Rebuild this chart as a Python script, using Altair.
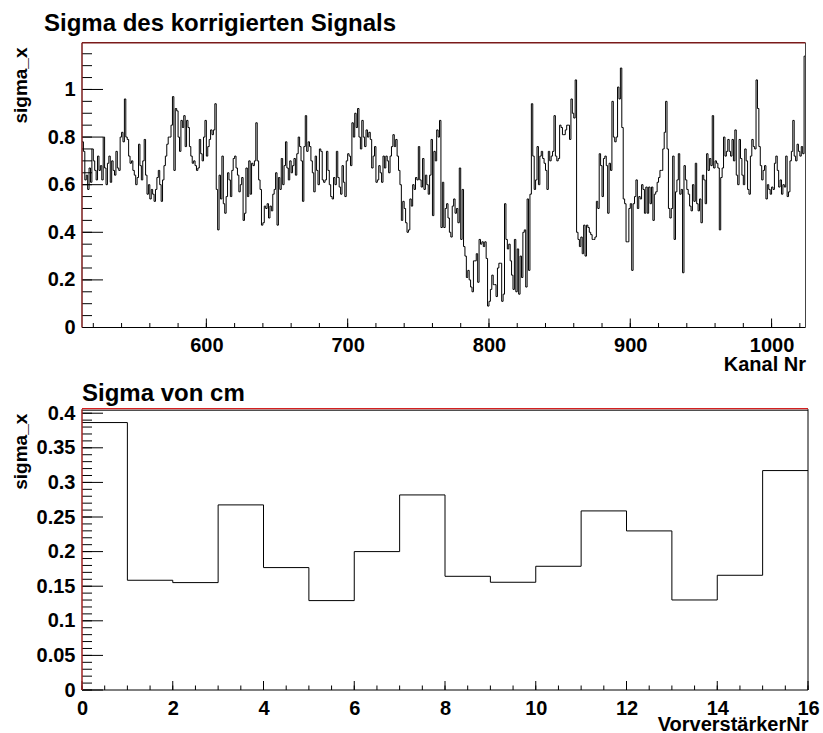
import altair as alt
import pandas as pd

# ---------------- data: Sigma des korrigierten Signals (Kanal 512..1023) ----------------
sigma_512_597 = [
    0.78, 0.74, 0.62, 0.64, 0.58, 0.67, 0.61, 0.75, 0.70, 0.66,
    0.62, 0.72, 0.66, 0.68, 0.62, 0.80, 0.67, 0.60, 0.69, 0.72,
    0.61, 0.70, 0.66, 0.64, 0.74, 0.67, 0.66, 0.80, 0.82, 0.78,
    0.96, 0.80, 0.79, 0.72, 0.69, 0.70, 0.66, 0.64, 0.60, 0.63,
    0.77, 0.68, 0.62, 0.70, 0.79, 0.64, 0.56, 0.60, 0.54, 0.58,
    0.56, 0.53, 0.58, 0.63, 0.66, 0.60, 0.53, 0.62, 0.68, 0.72,
    0.77, 0.80, 0.80, 0.85, 0.97, 0.66, 0.92, 0.91, 0.80, 0.74,
    0.87, 0.84, 0.89, 0.76, 0.87, 0.84, 0.76, 0.72, 0.69, 0.70,
    0.68, 0.66, 0.67, 0.79, 0.73, 0.70,
]
sigma_598_682 = [
    0.80, 0.87, 0.72, 0.76, 0.79, 0.83, 0.81, 0.83, 0.94, 0.58,
    0.41, 0.64, 0.54, 0.72, 0.52, 0.48, 0.55, 0.65, 0.62, 0.55,
    0.66, 0.71, 0.72, 0.67, 0.64, 0.57, 0.60, 0.63, 0.45, 0.48,
    0.67, 0.55, 0.70, 0.56, 0.69, 0.68, 0.70, 0.86, 0.70, 0.62,
    0.58, 0.43, 0.44, 0.51, 0.50, 0.52, 0.46, 0.51, 0.49, 0.56,
    0.58, 0.65, 0.43, 0.63, 0.58, 0.71, 0.60, 0.68, 0.78, 0.67,
    0.62, 0.70, 0.65, 0.68, 0.71, 0.64, 0.73, 0.80, 0.76, 0.70,
    0.53, 0.76, 0.89, 0.74, 0.78, 0.76, 0.70, 0.65, 0.57, 0.72,
    0.66, 0.60, 0.75, 0.74, 0.62,
]
sigma_683_767 = [
    0.61, 0.62, 0.74, 0.66, 0.60, 0.55, 0.54, 0.63, 0.60, 0.74,
    0.63, 0.59, 0.56, 0.68, 0.61, 0.55, 0.70, 0.73, 0.72, 0.68,
    0.86, 0.80, 0.90, 0.84, 0.92, 0.80, 0.75, 0.87, 0.80, 0.76,
    0.83, 0.80, 0.82, 0.79, 0.67, 0.72, 0.76, 0.61, 0.62, 0.68,
    0.65, 0.61, 0.72, 0.67, 0.72, 0.70, 0.65, 0.72, 0.76, 0.81,
    0.76, 0.79, 0.72, 0.66, 0.60, 0.45, 0.53, 0.50, 0.44, 0.40,
    0.41, 0.54, 0.51, 0.60, 0.58, 0.63, 0.62, 0.76, 0.62, 0.59,
    0.71, 0.58, 0.64, 0.60, 0.56, 0.64, 0.79, 0.47, 0.74, 0.70,
    0.83, 0.80, 0.87, 0.42, 0.61,
]
sigma_768_852 = [
    0.42, 0.50, 0.52, 0.46, 0.40, 0.38, 0.51, 0.54, 0.48, 0.50,
    0.44, 0.67, 0.37, 0.58, 0.34, 0.30, 0.21, 0.24, 0.20, 0.17,
    0.15, 0.28, 0.28, 0.31, 0.19, 0.37, 0.35, 0.36, 0.34, 0.36,
    0.29, 0.09, 0.11, 0.16, 0.22, 0.18, 0.18, 0.13, 0.25, 0.27,
    0.27, 0.11, 0.14, 0.52, 0.37, 0.33, 0.35, 0.28, 0.22, 0.16,
    0.37, 0.15, 0.33, 0.14, 0.30, 0.21, 0.40, 0.41, 0.17, 0.54,
    0.24, 0.56, 0.94, 0.72, 0.58, 0.62, 0.76, 0.60, 0.72, 0.74,
    0.71, 0.69, 0.66, 0.58, 0.74, 0.70, 0.72, 0.74, 0.89, 0.72,
    0.70, 0.71, 0.85, 0.84, 0.81,
]
sigma_853_937 = [
    0.81, 0.83, 0.85, 0.85, 0.79, 0.96, 0.90, 0.88, 1.04, 0.40,
    0.37, 0.34, 0.38, 0.31, 0.43, 0.30, 0.43, 0.42, 0.40, 0.39,
    0.37, 0.37, 0.38, 0.53, 0.50, 0.73, 0.68, 0.55, 0.71, 0.72,
    0.68, 0.48, 0.69, 0.66, 0.95, 0.80, 0.78, 0.80, 1.01, 0.96,
    1.09, 0.84, 0.54, 0.52, 0.36, 0.36, 0.50, 0.52, 0.24, 0.52,
    0.55, 0.62, 0.50, 0.55, 0.54, 0.60, 0.58, 0.48, 0.59, 0.48,
    0.59, 0.52, 0.59, 0.45, 0.56, 0.57, 0.61, 0.63, 0.66, 0.66,
    0.75, 0.82, 0.95, 0.75, 0.50, 0.46, 0.50, 0.72, 0.37, 0.57,
    0.62, 0.73, 0.56, 0.58, 0.23,
]
sigma_938_1023 = [
    0.68, 0.62, 0.58, 0.56, 0.51, 0.49, 0.60, 0.53, 0.69, 0.52,
    0.49, 0.54, 0.44, 0.64, 0.62, 0.52, 0.73, 0.66, 0.71, 0.68,
    0.89, 0.67, 0.70, 0.69, 0.67, 0.41, 0.63, 0.67, 0.80, 0.72,
    0.74, 0.79, 0.74, 0.72, 0.79, 0.70, 0.83, 0.64, 0.60, 0.79,
    0.71, 0.64, 0.60, 0.75, 0.70, 0.58, 0.56, 0.72, 0.79, 0.76,
    0.75, 1.04, 0.92, 0.76, 0.68, 0.62, 0.66, 0.68, 0.54, 0.60,
    0.58, 0.56, 0.59, 0.58, 0.69, 0.72, 0.66, 0.59, 0.62, 0.56,
    0.60, 0.59, 0.72, 0.55, 0.57, 0.70, 0.74, 0.87, 0.72, 0.70,
    0.77, 0.74, 0.72, 0.76, 0.73, 1.14,
]
sigma_signal = (sigma_512_597 + sigma_598_682 + sigma_683_767
                + sigma_768_852 + sigma_853_937 + sigma_938_1023)
kanal_first = 512
kanal_last = 1024

# ---------------- data: Sigma von cm (VorverstaerkerNr 0..15) ----------------
cm_sigma = [0.3865, 0.1586, 0.1552, 0.2675, 0.1769, 0.1292, 0.2000, 0.2819,
            0.1643, 0.1557, 0.1788, 0.2588, 0.2299, 0.1301, 0.1658, 0.3171]

# axis tick positions
top_y_labels = [0, 0.2, 0.4, 0.6, 0.8, 1.0]
top_y_minor = [round(0.05 * i, 2) for i in range(24)]
top_x_labels = [600, 700, 800, 900, 1000]
top_x_minor = list(range(520, 1024, 20))
bot_y_labels = [round(0.05 * i, 2) for i in range(9)]
bot_y_minor = [round(0.01 * i, 2) for i in range(41)]
bot_x_labels = list(range(0, 17, 2))
bot_x_minor = [0.5 * i for i in range(33)]

titles_top = ["Sigma des korrigierten Signals"]
titles_bot = ["Sigma von cm"]

# ---------------- layout (pixels) ----------------
W, H = 823, 733
TL, TR, TT, TB = 82, 805.5, 42.8, 327.5
BL, BR, BT, BB = 82, 808, 409.2, 690
FONT = "Liberation Sans"
LABEL_SIZE = 20

top_df = pd.DataFrame({
    "kanal": list(range(kanal_first, kanal_first + len(sigma_signal))) + [kanal_last],
    "sigma": sigma_signal + [sigma_signal[-1]],
})
bot_df = pd.DataFrame({
    "nr": list(range(len(cm_sigma))) + [len(cm_sigma)],
    "sigma": cm_sigma + [cm_sigma[-1]],
})


def xs_top():
    return alt.Scale(domain=[512, 1024], range=[TL, TR], nice=False, zero=False)


def ys_top():
    return alt.Scale(domain=[0, 1.196], range=[TB, TT], nice=False, zero=False)


def xs_bot():
    return alt.Scale(domain=[0, 16], range=[BL, BR], nice=False, zero=False)


def ys_bot():
    return alt.Scale(domain=[0, 0.4058], range=[BB, BT], nice=False, zero=False)


def x_axis(values, title, offset, title_x, title_y):
    return alt.Axis(orient="bottom", offset=offset, values=values, format="d",
                    ticks=False, domain=False, grid=False, labelOverlap=False,
                    labelFlush=False, labelFont=FONT, labelFontSize=LABEL_SIZE,
                    labelFontWeight="bold", labelColor="black", labelPadding=8,
                    title=title, titleX=title_x, titleY=title_y, titleAlign="right",
                    titleBaseline="alphabetic", titleFont=FONT, titleFontSize=20,
                    titleFontWeight="bold", titleColor="black")


def y_axis(values, title_y):
    return alt.Axis(orient="left", offset=-TL, values=values, format="~g",
                    ticks=False, domain=False, grid=False, labelOverlap=False,
                    labelFlush=False, labelFont=FONT, labelFontSize=LABEL_SIZE,
                    labelFontWeight="bold", labelColor="black", labelPadding=7,
                    title="sigma_x", titleAngle=270, titleX=26 - TL, titleY=title_y,
                    titleAlign="right", titleBaseline="alphabetic", titleFont=FONT,
                    titleFontSize=19, titleFontWeight="bold", titleColor="black")


def yticks(vals, ys, x0, length):
    return alt.Chart(pd.DataFrame({"t": vals})).mark_rule(color="black", strokeWidth=1).encode(
        y=alt.Y("t:Q", scale=ys, axis=None),
        x=alt.value(x0), x2=alt.value(x0 + length))


def xticks(vals, xs, y0, length):
    return alt.Chart(pd.DataFrame({"t": vals})).mark_rule(color="black", strokeWidth=1).encode(
        x=alt.X("t:Q", scale=xs, axis=None),
        y=alt.value(y0), y2=alt.value(y0 - length))


def frame(x1, x2, y1, y2, color, width=1):
    return alt.Chart(pd.DataFrame({"f": [0]})).mark_rule(color=color, strokeWidth=width).encode(
        x=alt.value(x1), x2=alt.value(x2), y=alt.value(y1), y2=alt.value(y2))


# ---------------- top panel ----------------
hist_top = alt.Chart(top_df).mark_line(interpolate="step-after", color="black", strokeWidth=1).encode(
    x=alt.X("kanal:Q", scale=xs_top(), axis=x_axis(top_x_labels, "Kanal Nr", TB - H, TR, 42.5)),
    y=alt.Y("sigma:Q", scale=ys_top(), axis=y_axis(top_y_labels, 47)),
)

# ---------------- bottom panel ----------------
hist_bot = alt.Chart(bot_df).mark_line(interpolate="step-after", color="black", strokeWidth=1).encode(
    x=alt.X("nr:Q", scale=xs_bot(), axis=x_axis(bot_x_labels, "VorverstärkerNr", BB - H, BR, 40.5)),
    y=alt.Y("sigma:Q", scale=ys_bot(), axis=y_axis(bot_y_labels, BT + 4)),
)

tick_layers = [
    yticks(top_y_minor, ys_top(), TL, 10),
    yticks(top_y_labels, ys_top(), TL, 21),
    xticks(top_x_minor, xs_top(), TB, 4.5),
    xticks(top_x_labels, xs_top(), TB, 9),
    yticks(bot_y_minor, ys_bot(), BL, 10),
    yticks(bot_y_labels, ys_bot(), BL, 21),
    xticks(bot_x_minor, xs_bot(), BB, 4.5),
    xticks(bot_x_labels, xs_bot(), BB, 9),
]

title_top = alt.Chart(pd.DataFrame({"t": titles_top})).mark_text(
    align="left", baseline="alphabetic", font=FONT, fontSize=24, fontWeight="bold", color="black"
).encode(text="t:N", x=alt.value(44), y=alt.value(30.5))
title_bot = alt.Chart(pd.DataFrame({"t": titles_bot})).mark_text(
    align="left", baseline="alphabetic", font=FONT, fontSize=24, fontWeight="bold", color="black"
).encode(text="t:N", x=alt.value(BL), y=alt.value(401))

frames = [
    frame(TL, TR, TB, TB, "black"),
    frame(TR, TR, TT, TB, "#444444"),
    frame(TL, TR, TT, TT, "#7a1a1a", 1.5),
    frame(TL, TL, TT, TB, "#7a1a1a", 1.5),
    frame(BL, BR, BB, BB, "black"),
    frame(BR, BR, BT, BB, "black"),
    frame(BL, BR, BT + 1, BT + 1, "black"),
    frame(BL, BR, BT - 0.5, BT - 0.5, "#d42020", 1.2),
    frame(BL, BL, BT, BB, "#a02020", 1.5),
]

chart = alt.layer(hist_top, hist_bot, *tick_layers, title_top, title_bot, *frames).resolve_scale(
    x="independent", y="independent"
).resolve_axis(
    x="independent", y="independent"
).properties(
    width=W, height=H, padding=0, autosize=alt.AutoSizeParams(type="none"),
    background="white",
).configure_view(stroke=None)

chart.save("out.html", embed_options={"renderer": "svg", "actions": False})
